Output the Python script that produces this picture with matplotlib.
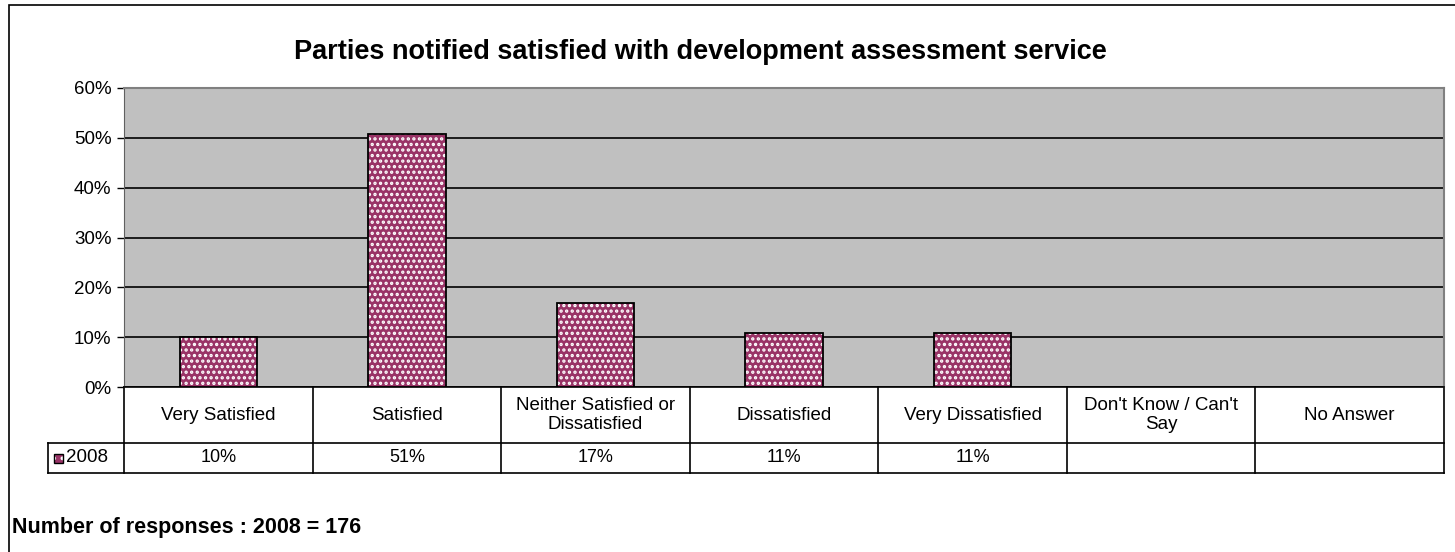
import numpy as np
import matplotlib
matplotlib.use("Agg")
import matplotlib.pyplot as plt
from matplotlib.lines import Line2D
from matplotlib.patches import Rectangle

plt.rcParams['font.family'] = ['Liberation Sans', 'DejaVu Sans']
plt.rcParams['hatch.linewidth'] = 1.6

categories = ['Very Satisfied', 'Satisfied', 'Neither Satisfied or\nDissatisfied',
              'Dissatisfied', 'Very Dissatisfied', "Don't Know / Can't\nSay", 'No Answer']
values_2008 = [10.1, 50.8, 16.8, 10.9, 10.9, None, None]
labels_2008 = ['10%', '51%', '17%', '11%', '11%', '', '']
series_name = '2008'
yticks = [0, 10, 20, 30, 40, 50, 60]

W, H = 1455, 552
fig = plt.figure(figsize=(W / 100, H / 100), dpi=100)

# outer chart border
fig.add_artist(Rectangle((9 / W, -0.05), 1.1, 1 - 5 / H + 0.05, transform=fig.transFigure,
                         fill=False, edgecolor='black', linewidth=1.2))

left, right, top, bottom = 124, 1444, 88, 387
ax = fig.add_axes([left / W, 1 - bottom / H, (right - left) / W, (bottom - top) / H])
ax.set_facecolor('#C0C0C0')

bx = [i for i, v in enumerate(values_2008) if v is not None]
bv = [v for v in values_2008 if v is not None]
ax.bar(bx, bv, width=0.41, color='#993366', edgecolor='white', hatch='...', linewidth=0, zorder=3)
ax.bar(bx, bv, width=0.41, fill=False, edgecolor='black', linewidth=1.3, zorder=4)

ax.set_xlim(-0.5, len(categories) - 0.5)
ax.set_ylim(0, 60)
ax.set_yticks(yticks)
ax.set_yticklabels([f'{t}%' for t in yticks], fontsize=13.5)
ax.tick_params(axis='y', length=5, width=1, pad=4)
ax.set_xticks([])
ax.grid(axis='y', color='black', linewidth=1.2, zorder=1)
ax.set_axisbelow(True)
for s in ['top', 'right']:
    ax.spines[s].set_color('#808080')
    ax.spines[s].set_linewidth(1.5)
ax.spines['left'].set_color('#606060')
ax.spines['bottom'].set_color('black')
ax.spines['bottom'].set_linewidth(1.2)

# data table below the axes
ph = bottom - top
r1 = -(443 - bottom) / ph
r2 = -(473 - bottom) / ph
lab_x = (48 - left) / (right - left)
trans = ax.get_xaxis_transform()
lk = dict(color='black', linewidth=1.2, clip_on=False)
for k in range(len(categories) + 1):
    xb = k - 0.5
    ax.add_line(Line2D([xb, xb], [0, r2], transform=trans, **lk))
ax.add_line(Line2D([lab_x, 1], [r1, r1], transform=ax.transAxes, **lk))
ax.add_line(Line2D([lab_x, 1], [r2, r2], transform=ax.transAxes, **lk))
ax.add_line(Line2D([lab_x, lab_x], [r1, r2], transform=ax.transAxes, **lk))

for i, c in enumerate(categories):
    ax.text(i, r1 / 2, c, transform=trans, ha='center', va='center', fontsize=13.5, linespacing=1.2)
    ax.text(i, (r1 + r2) / 2, labels_2008[i], transform=trans, ha='center', va='center', fontsize=13)

# legend key + series name
key_x = (54 - left) / (right - left)
kw = 9 / (right - left)
kh = 9 / ph
ym = (r1 + r2) / 2
ax.add_patch(Rectangle((key_x, ym - kh / 2), kw, kh, transform=ax.transAxes, clip_on=False,
                       facecolor='#993366', edgecolor='white', hatch='..', linewidth=0))
ax.add_patch(Rectangle((key_x, ym - kh / 2), kw, kh, transform=ax.transAxes, clip_on=False,
                       fill=False, edgecolor='black', linewidth=1))
ax.text((66 - left) / (right - left), ym, series_name, transform=ax.transAxes,
        ha='left', va='center', fontsize=13.5)

fig.text(700 / W, 1 - 52 / H, 'Parties notified satisfied with development assessment service',
         ha='center', va='center', fontsize=19.5, fontweight='bold')
fig.text(12 / W, 1 - 527 / H, 'Number of responses : 2008 = 176',
         ha='left', va='center', fontsize=15.5, fontweight='bold')

fig.savefig('out.png', dpi=100)
